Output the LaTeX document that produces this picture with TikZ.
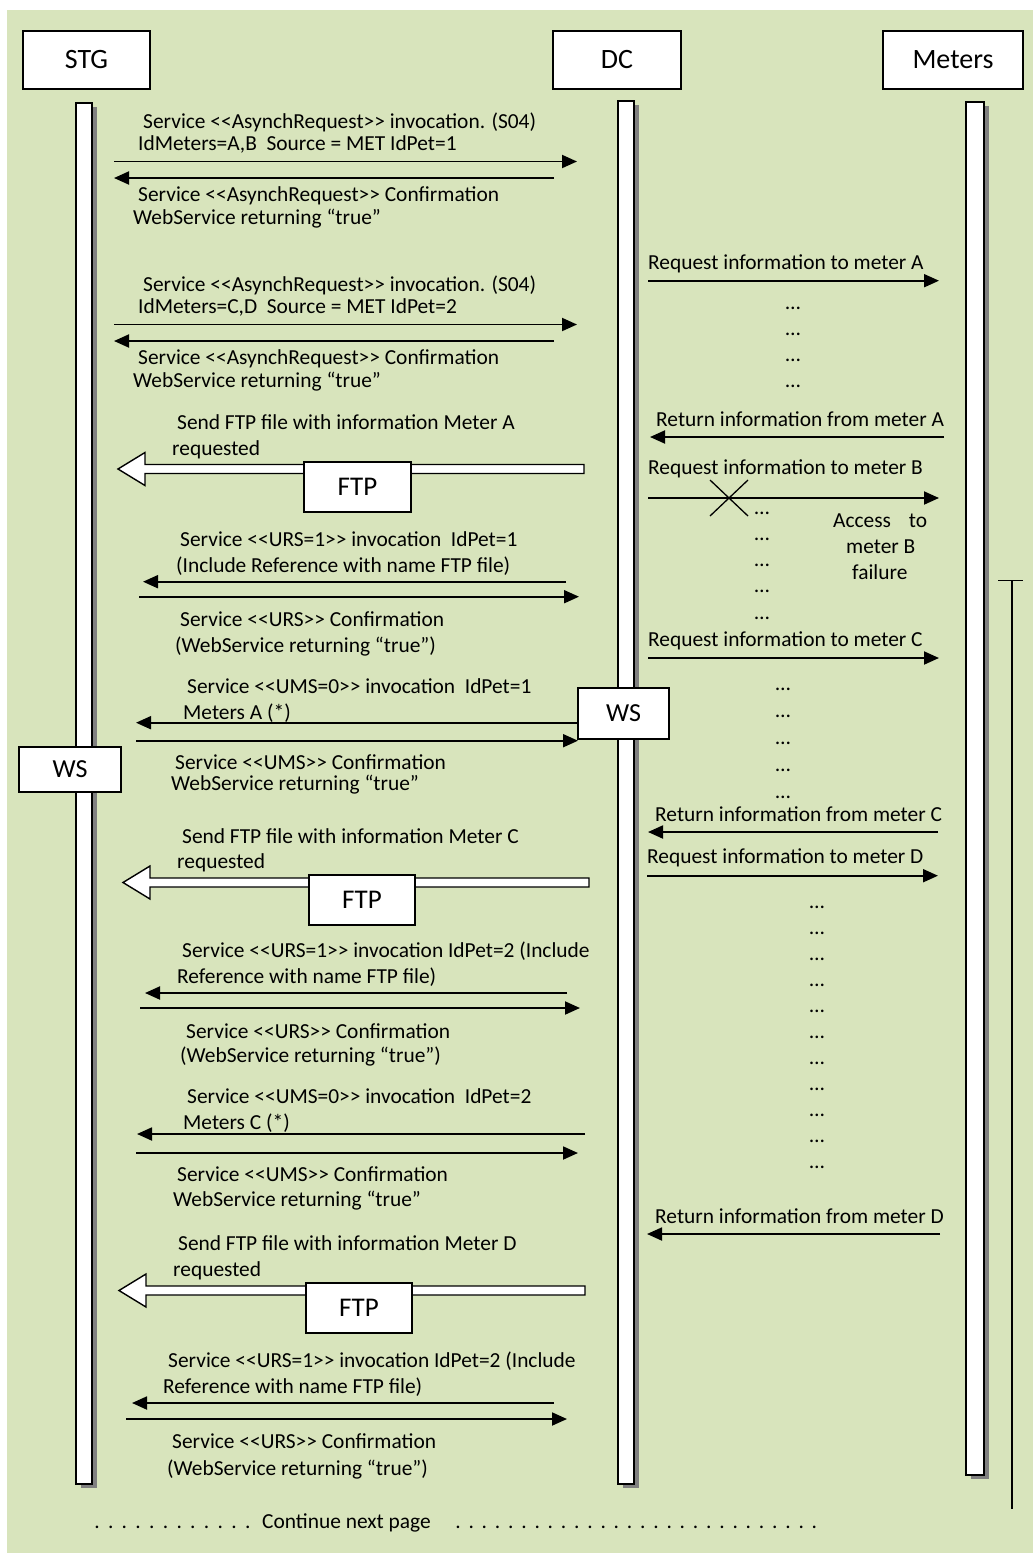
\documentclass[tikz,border=0pt]{standalone}
\usepackage{fontspec}
\newfontfamily\calfont{Carlito}
\usetikzlibrary{arrows.meta,shadows,calc}
\definecolor{panel}{RGB}{216,228,188}
\definecolor{shade}{RGB}{128,128,128}

% message arrow between two named end points
\newcommand\sendmsg[4]{%
  \coordinate (#1s) at (#2,#4);
  \coordinate (#1e) at (#3,#4);
  \draw[msg] (#1s) -- (#1e);}
% hollow FTP transfer arrow: name, tip x, tail x, y
\newcommand\ftparrow[4]{%
  \coordinate (#1tip) at (#2,#4);
  \coordinate (#1tail) at (#3,#4);
  \draw[hollow] (#1tip) -- ++(27,-16.5) -- ++(0,12) -- ($(#1tail)+(0,-4.5)$)
    -- ++(0,9) -- ($(#1tip)+(27,4.5)$) -- ++(0,12) -- cycle;}

\begin{document}
\begin{tikzpicture}[x=1pt,y=-1pt,
  txt/.style={font=\calfont\fontsize{21.4}{25}\selectfont, inner sep=0pt, anchor=base west},
  ell/.style={font=\calfont\fontsize{21.4}{25}\selectfont, inner sep=0pt, anchor=center},
  actor/.style={draw, fill=white, line width=1.5pt, inner sep=0pt, font=\calfont\fontsize{28}{32}\selectfont},
  tag/.style={draw, fill=white, line width=1.4pt, inner sep=0pt, font=\calfont\fontsize{27}{30}\selectfont},
  bar/.style={draw, fill=white, line width=1.5pt, inner sep=0pt,
    drop shadow={shadow xshift=5pt, shadow yshift=-4pt, fill=shade, opacity=1}},
  msg/.style={line width=1.9pt, -{Triangle[length=15pt,width=13pt]}},
  hollow/.style={draw, fill=white, line width=1.4pt, line join=miter},
  cross/.style={line width=1.3pt},
]
\useasboundingbox (0,0) rectangle (1033,1553);
\fill[panel] (7,10) rectangle (1033,1553);

% participants
\node[actor, minimum width=127pt, minimum height=58pt] (stg) at (86.5,60) {STG};
\node[actor, minimum width=128pt, minimum height=58pt] (dc) at (617,60) {DC};
\node[actor, minimum width=140pt, minimum height=58pt] (met) at (953,60) {Meters};

% activation bars
\node[bar, minimum width=16pt, minimum height=1381pt] (stgbar) at (84,793.5) {};
\node[bar, minimum width=16pt, minimum height=1383pt] (dcbar) at (626,792.5) {};
\node[bar, minimum width=18pt, minimum height=1373pt] (metbar) at (975,788.5) {};

% ---- asynch request 1
\node[txt] (t1a) at (143,128) {Service <<AsynchRequest>> invocation. (S04)};
\node[txt] (t1b) at (138,150.7) {IdMeters=A,B\ \ Source = MET IdPet=1};
\sendmsg{m1}{114}{577}{161.5}
\sendmsg{m2}{554}{114}{178}
\node[txt] (t2a) at (138,201.7) {Service <<AsynchRequest>> Confirmation};
\node[txt] (t2b) at (133,224) {WebService returning “true”};

% ---- asynch request 2
\node[txt] (t3a) at (143,291) {Service <<AsynchRequest>> invocation. (S04)};
\node[txt] (t3b) at (138,313.7) {IdMeters=C,D\ \ Source = MET IdPet=2};
\sendmsg{m3}{114}{577}{324.5}
\sendmsg{m4}{554}{114}{341}
\node[txt] (t4a) at (138,364.7) {Service <<AsynchRequest>> Confirmation};
\node[txt] (t4b) at (133,387) {WebService returning “true”};

% ---- DC <-> meters
\node[txt] (r1) at (648,269.3) {Request information to meter A};
\sendmsg{q1}{648}{939}{280.7}
\foreach \yy [count=\k] in {308,334,360,386} \node[ell] (da\k) at (793,\yy) {…};
\node[txt] (r2) at (656,426.7) {Return information from meter A};
\sendmsg{q2}{944}{650}{437}
\node[txt] (r3) at (648,474) {Request information to meter B};
\sendmsg{q3}{648}{939}{498}
\coordinate (xa) at (710,480); \coordinate (xb) at (748,516);
\coordinate (xc) at (710,516); \coordinate (xd) at (748,480);
\draw[cross] (xa) -- (xb) (xc) -- (xd);
\foreach \yy [count=\k] in {513,539,565,591,618} \node[ell] (db\k) at (762,\yy) {…};
\node[txt] (acc1) at (833,527) {\hbox to 94pt{Access\hfill to}};
\node[txt] (acc2) at (846,553) {meter B};
\node[txt] (acc3) at (852,579) {failure};
\node[txt] (r4) at (648,646) {Request information to meter C};
\sendmsg{q4}{648}{939}{658}
\foreach \yy [count=\k] in {689,716,743,770,797} \node[ell] (dcc\k) at (783,\yy) {…};
\node[txt] (r5) at (655,821.7) {Return information from meter C};
\sendmsg{q5}{938}{648}{832}
\node[txt] (r6) at (647,863) {Request information to meter D};
\sendmsg{q6}{647}{938}{875.7}
\foreach \k in {0,...,10} \node[ell] (dd\k) at (817,907+26*\k) {…};
\node[txt] (r7) at (655,1223) {Return information from meter D};
\sendmsg{q7}{940}{647}{1234}

% ---- FTP transfer of meter A
\node[txt] (f1a) at (177,429.3) {Send FTP file with information Meter A};
\node[txt] (f1b) at (172,455) {requested};
\ftparrow{fa}{118}{584}{469}
\node[tag, minimum width=107pt, minimum height=50pt] (ftp1) at (357.5,487) {FTP};

\node[txt] (u1a) at (180,546.7) {Service <<URS=1>> invocation\ \ IdPet=1};
\node[txt] (u1b) at (176,572.7) {(Include Reference with name FTP file)};
\sendmsg{m5}{566}{143}{581.7}
\sendmsg{m6}{139}{579}{596.7}
\node[txt] (u2a) at (180,626) {Service <<URS>> Confirmation};
\node[txt] (u2b) at (175,652) {(WebService returning “true”)};

\node[txt] (s1a) at (187,693) {Service <<UMS=0>> invocation\ \ IdPet=1};
\node[txt] (s1b) at (183,719.3) {Meters A (*)};
\sendmsg{m7}{585}{136}{722.7}
\node[tag, minimum width=91pt, minimum height=51pt, font=\calfont\fontsize{26}{30}\selectfont] (wsdc) at (623.5,713.5) {WS};
\sendmsg{m8}{136}{578}{740.7}
\node[tag, minimum width=102pt, minimum height=45pt, font=\calfont\fontsize{26}{30}\selectfont] (wsstg) at (70,769.5) {WS};
\node[txt] (s2a) at (175,769) {Service <<UMS>> Confirmation};
\node[txt] (s2b) at (171,790.7) {WebService returning “true”};

% ---- FTP transfer of meter C
\node[txt] (f2a) at (182,843) {Send FTP file with information Meter C};
\node[txt] (f2b) at (177,868) {requested};
\ftparrow{fc}{123}{589}{882.5}
\node[tag, minimum width=106pt, minimum height=50pt] (ftp2) at (362,900) {FTP};

\node[txt] (u3a) at (182,957) {Service <<URS=1>> invocation IdPet=2 (Include};
\node[txt] (u3b) at (177,983) {Reference with name FTP file)};
\sendmsg{m9}{567}{145}{993}
\sendmsg{m10}{140}{580}{1008}
\node[txt] (u4a) at (186,1038) {Service <<URS>> Confirmation};
\node[txt] (u4b) at (180,1062) {(WebService returning “true”)};

\node[txt] (s3a) at (187,1103) {Service <<UMS=0>> invocation\ \ IdPet=2};
\node[txt] (s3b) at (183,1129) {Meters C (*)};
\sendmsg{m11}{585}{137}{1134}
\sendmsg{m12}{136}{578}{1153}
\node[txt] (s4a) at (177,1181) {Service <<UMS>> Confirmation};
\node[txt] (s4b) at (173,1206) {WebService returning “true”};

% ---- FTP transfer of meter D
\node[txt] (f3a) at (178,1250) {Send FTP file with information Meter D};
\node[txt] (f3b) at (173,1276) {requested};
\ftparrow{fd}{119}{585}{1290.5}
\node[tag, minimum width=106pt, minimum height=50pt] (ftp3) at (359,1308) {FTP};

\node[txt] (u5a) at (168,1367) {Service <<URS=1>> invocation IdPet=2 (Include};
\node[txt] (u5b) at (163,1393) {Reference with name FTP file)};
\sendmsg{m13}{554}{132}{1403}
\sendmsg{m14}{126}{567}{1419}
\node[txt] (u6a) at (172,1448) {Service <<URS>> Confirmation};
\node[txt] (u6b) at (167,1475) {(WebService returning “true”)};

% ---- meters timeout bracket
\coordinate (bt) at (1012,580.7);
\coordinate (bb) at (1012,1509);
\draw[line width=1.3pt] ($(bt)+(-14,0)$) -- ($(bt)+(11,0)$);
\draw[line width=1.3pt] (bt) -- (bb);

% ---- continuation
\node[txt] (cont) at (262,1528) {Continue next page};
\foreach \k in {0,...,11} \node[txt, anchor=base] (pl\k) at (97+13.7*\k,1528) {.};
\foreach \k in {0,...,27} \node[txt, anchor=base] (pr\k) at (458+13.2*\k,1528) {.};
\end{tikzpicture}
\end{document}
